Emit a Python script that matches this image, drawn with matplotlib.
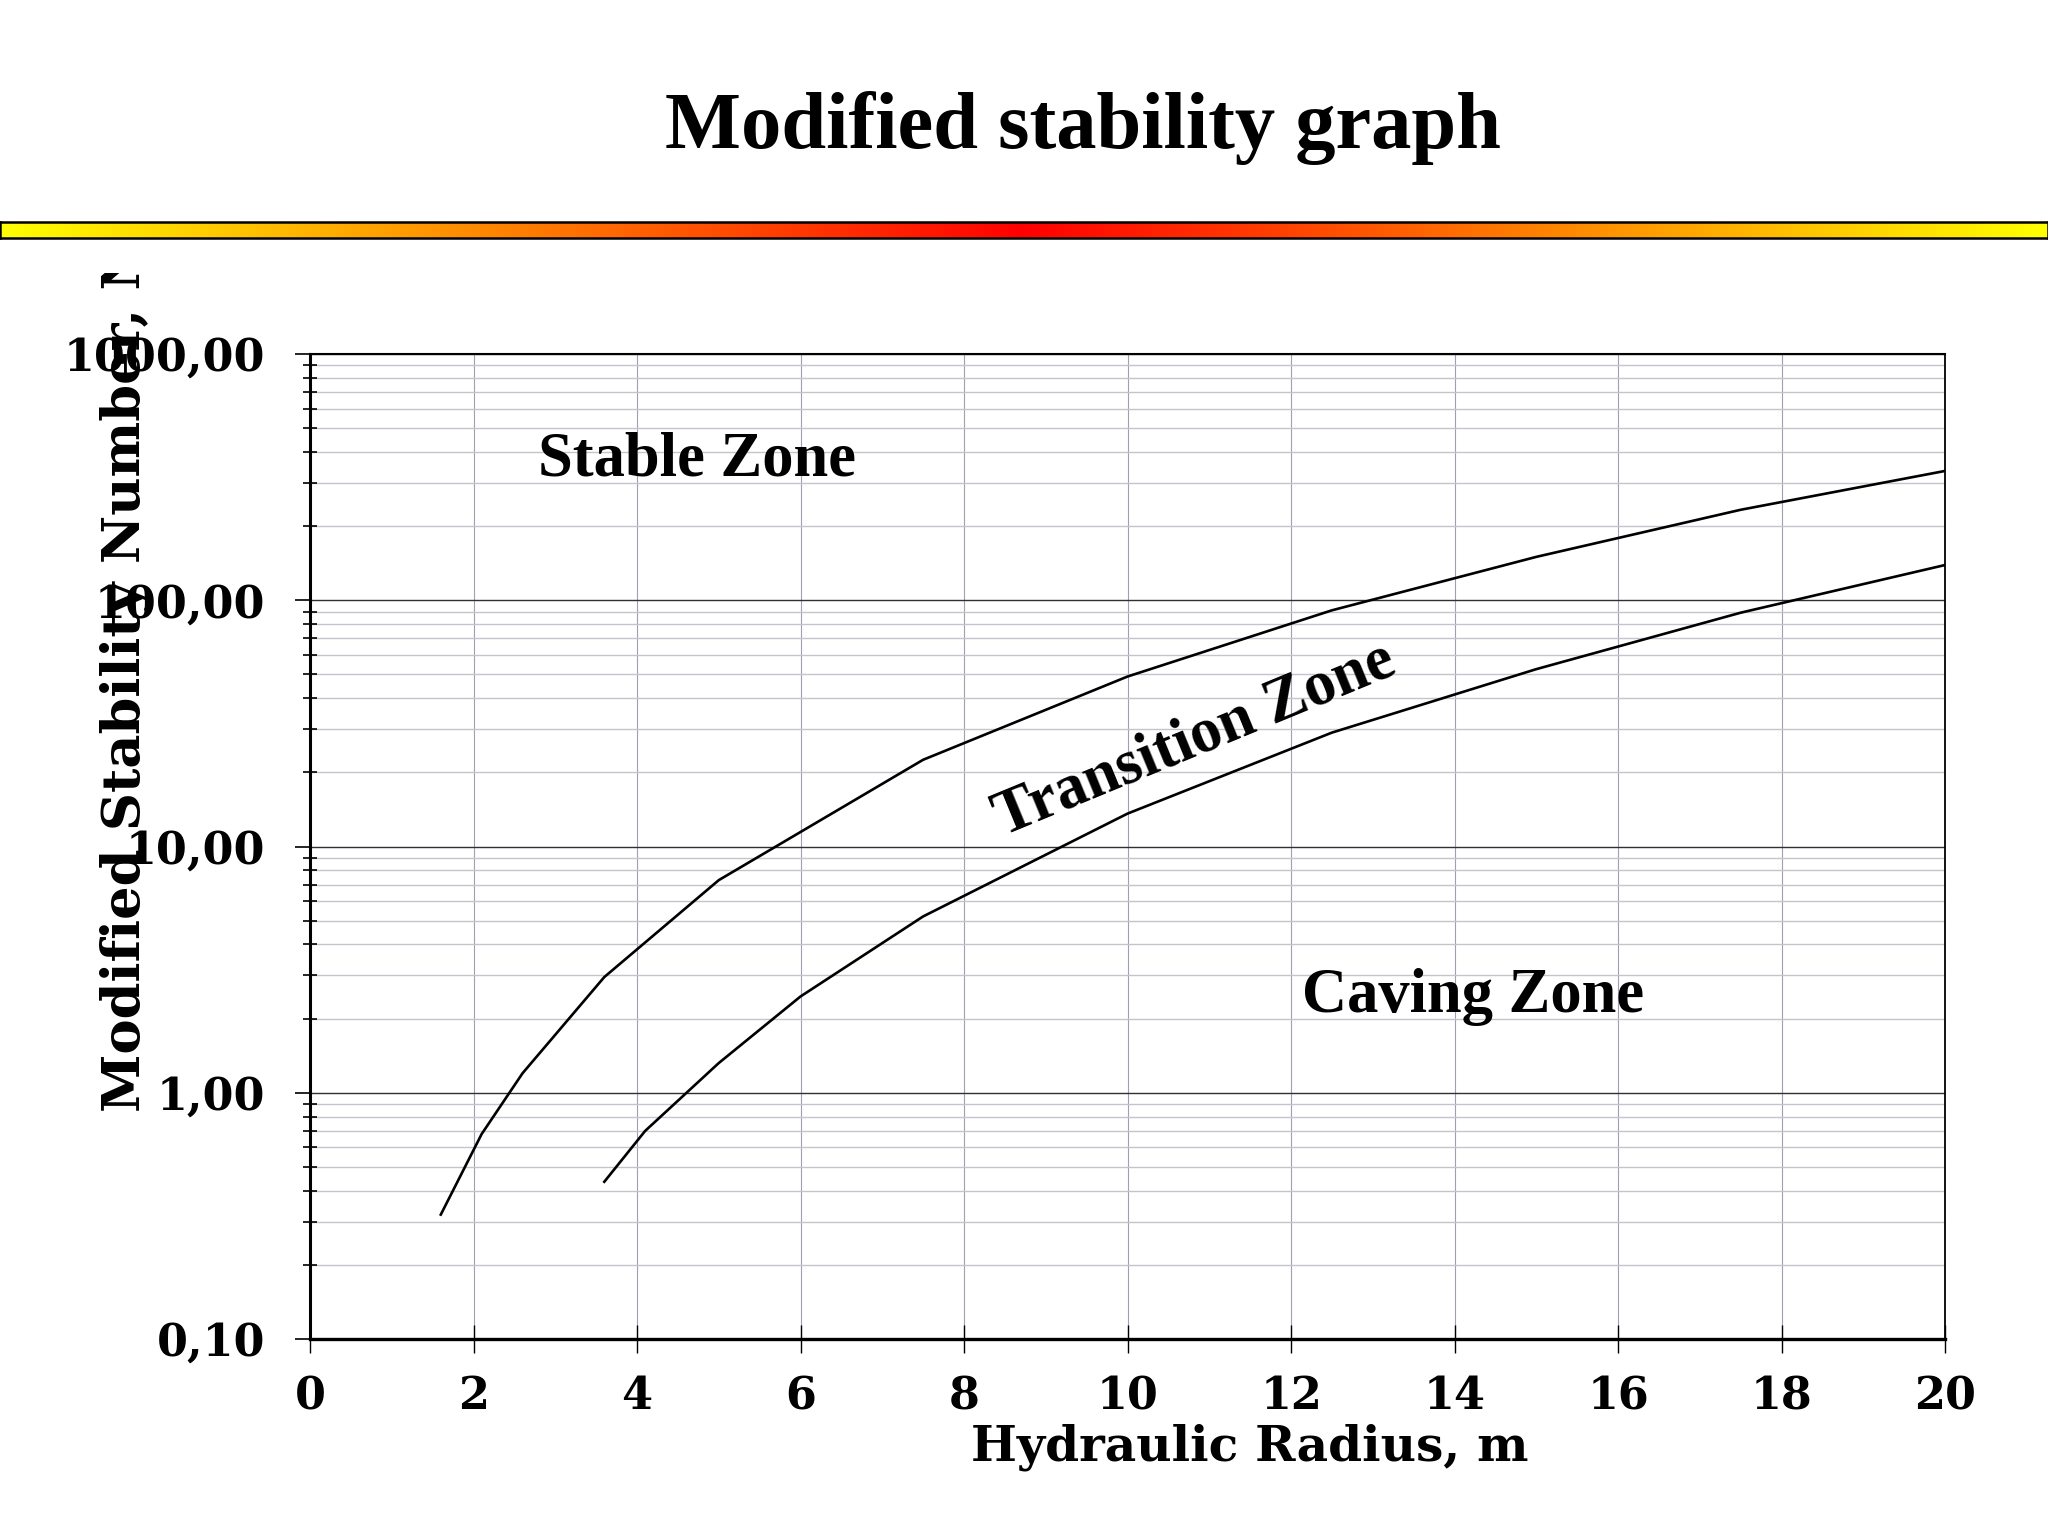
import numpy as np
import matplotlib
matplotlib.use("Agg")
import matplotlib.pyplot as plt
from matplotlib.colors import LinearSegmentedColormap
from matplotlib.transforms import Bbox, TransformedBbox
from matplotlib.ticker import LogLocator, NullFormatter

# ---------------- data ----------------
upper_x = [1.6, 2.1, 2.6, 3.6, 5.0, 7.5, 10.0, 12.5, 15.0, 17.5, 20.0]
upper_y = [0.32, 0.68, 1.2, 2.95, 7.3, 22.5, 49.0, 91.0, 150.0, 233.0, 335.0]

lower_x = [3.6, 4.1, 5.0, 6.0, 7.5, 10.0, 12.5, 15.0, 17.5, 20.0]
lower_y = [0.435, 0.70, 1.32, 2.46, 5.2, 13.6, 29.0, 52.5, 89.0, 139.0]

x_ticks = [0, 2, 4, 6, 8, 10, 12, 14, 16, 18, 20]
y_ticks = [0.1, 1, 10, 100, 1000]
y_tick_labels = ["0,10", "1,00", "10,00", "100,00", "1000,00"]

title_text = "Modified stability graph"
x_label = "Hydraulic Radius, m"
y_label = "Modified Stability Number, N"
zone_labels = ["Stable Zone", "Transition Zone", "Caving Zone"]
zone_pos = [(4.73, 370.0), (10.83, 27.0), (14.23, 2.45)]
zone_rot = [0, 22.4, 0]

# ---------------- figure ----------------
W, H = 2048, 1536
fig = plt.figure(figsize=(W / 100, H / 100), dpi=100)
fig.patch.set_facecolor("white")

def fx(px):
    return px / W

def fy(py):
    return 1 - py / H

serif_title = ["Liberation Serif", "DejaVu Serif"]
serif_wide = ["DejaVu Serif"]

# title
fig.text(fx(1083), fy(128), title_text, ha="center", va="center",
         fontsize=58, fontweight="bold", family=serif_title)

# gradient bar
bar_ax = fig.add_axes([0.0, fy(238), 1.0, (238 - 222) / H])
cmap = LinearSegmentedColormap.from_list("bar", ["#ffff00", "#ff0000", "#ffff00"])
grad = np.linspace(0, 1, 512).reshape(1, -1)
bar_ax.imshow(grad, aspect="auto", cmap=cmap, extent=[0, 1, 0, 1])
bar_ax.set_xticks([])
bar_ax.set_yticks([])
for s in bar_ax.spines.values():
    s.set_linewidth(1.8)
    s.set_color("black")

# main axes
left, right, top, bottom = 310, 1945, 354, 1339
ax = fig.add_axes([fx(left), fy(bottom), (right - left) / W, (bottom - top) / H])
ax.set_yscale("log")
ax.set_xlim(0, 20)
ax.set_ylim(0.1, 1000)

ax.plot(upper_x, upper_y, color="black", lw=1.9, zorder=5)
ax.plot(lower_x, lower_y, color="black", lw=1.9, zorder=5)

ax.set_xticks(x_ticks)
ax.set_xticklabels([str(v) for v in x_ticks])
ax.set_yticks(y_ticks)
ax.set_yticklabels(y_tick_labels)
ax.yaxis.set_minor_locator(LogLocator(base=10, subs=np.arange(2, 10)))
ax.yaxis.set_minor_formatter(NullFormatter())

for lab in ax.get_xticklabels() + ax.get_yticklabels():
    lab.set_family(serif_wide)
    lab.set_fontweight("bold")
    lab.set_fontsize(32)

ax.tick_params(axis="x", which="major", direction="inout", length=20,
               width=1.0, pad=16, color="black")
ax.tick_params(axis="y", which="major", direction="out", length=11,
               width=1.2, pad=21, color="black")
ax.tick_params(axis="y", which="minor", direction="inout", length=10,
               width=1.2, color="black")

ax.grid(which="major", axis="y", color="#303030", lw=1.0, zorder=0)
ax.grid(which="minor", axis="y", color="#c4c4cc", lw=1.0, zorder=0)
ax.grid(which="major", axis="x", color="#a0a0b2", lw=0.8, zorder=0)
ax.set_axisbelow(True)

ax.spines["left"].set_linewidth(2.2)
ax.spines["bottom"].set_linewidth(2.4)
ax.spines["top"].set_linewidth(1.5)
ax.spines["right"].set_linewidth(1.3)

# zone labels
for txt, (zx, zy), rot in zip(zone_labels, zone_pos, zone_rot):
    ax.text(zx, zy, txt, ha="center", va="center", rotation=rot,
            rotation_mode="anchor", fontsize=45, fontweight="bold",
            family=serif_title, zorder=6)

# x label
fig.text(fx(1250), fy(1447), x_label, ha="center", va="center",
         fontsize=35, fontweight="bold", family=serif_wide)

# y label (clipped at top, as in the reference)
yl = fig.text(fx(126), fy(1112), y_label, rotation=90, ha="center", va="bottom",
              fontsize=38, fontweight="bold", family=serif_wide)
yl.set_clip_on(True)
yl.set_clip_box(TransformedBbox(Bbox([[0, 0], [1, fy(273)]]), fig.transFigure))

fig.savefig("out.png", dpi=100, facecolor="white")
